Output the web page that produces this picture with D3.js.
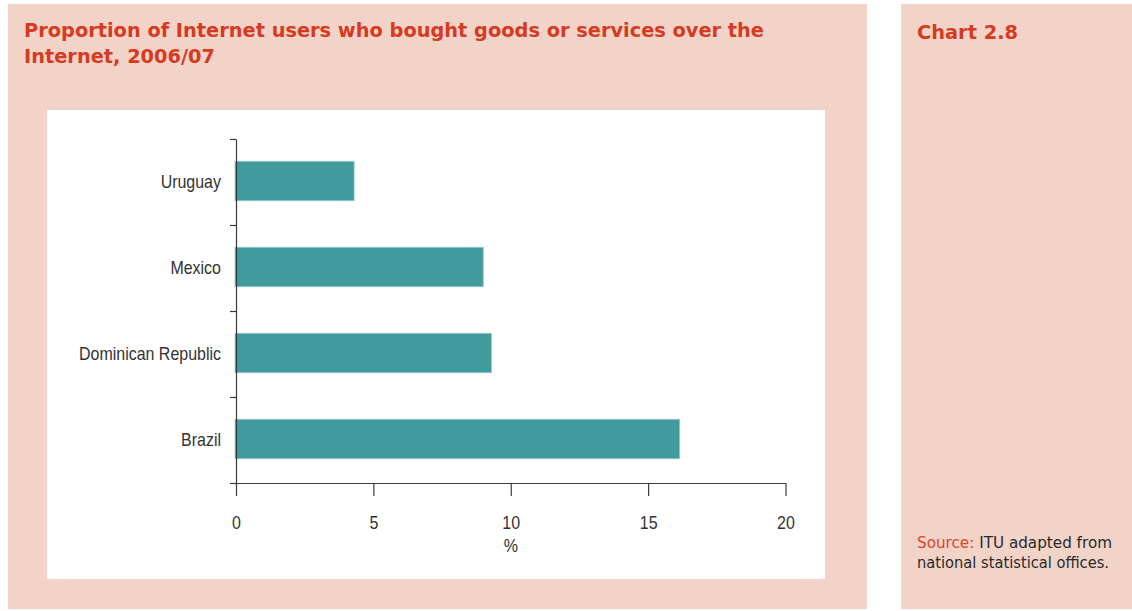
<!DOCTYPE html>
<html>
<head>
<meta charset="utf-8">
<script src="https://cdn.jsdelivr.net/npm/d3@7"></script>
<style>
  html, body { margin: 0; padding: 0; background: #ffffff; }
  svg { display: block; }
</style>
</head>
<body>
<svg id="chart" width="1132" height="611"></svg>
<script>
// Countries, top to bottom
const countries = ["Uruguay", "Mexico", "Dominican Republic", "Brazil"];
// Share of Internet users who bought online, %
const shares = [4.3, 9.0, 9.3, 16.15];
// Axis tick values
const xTicks = [0, 5, 10, 15, 20];

const titleLines = [
  "Proportion of Internet users who bought goods or services over the",
  "Internet, 2006/07"
];
const chartNo = "Chart 2.8";
const sourceLabel = "Source:";
const sourceLines = [" ITU adapted from", "national statistical offices."];

const pink = "#f2d3c7";
const red = "#d63a22";
const teal = "#419a9b";
const axisColor = "#3a3a3a";

const svg = d3.select("#chart");

// Background panels
svg.append("rect").attr("x", 8).attr("y", 4).attr("width", 859).attr("height", 605).attr("fill", pink);
svg.append("rect").attr("x", 901).attr("y", 4).attr("width", 231).attr("height", 605).attr("fill", pink);
svg.append("rect").attr("x", 47).attr("y", 110).attr("width", 778).attr("height", 469).attr("fill", "#ffffff");

// Squeeze a text element horizontally by factor k, keeping its font size
function condense(sel, k) {
  sel.each(function () {
    const w = this.getComputedTextLength();
    d3.select(this).attr("textLength", (w * k).toFixed(2)).attr("lengthAdjust", "spacingAndGlyphs");
  });
}
function ratioFor(sel, target) {
  return target / sel.node().getComputedTextLength();
}

// Title
const titleFont = "Tahoma, 'DejaVu Sans', Verdana, sans-serif";
const t1 = svg.append("text").attr("x", 24).attr("y", 37)
  .attr("font-family", titleFont).attr("font-weight", "bold")
  .attr("font-size", 19.5).attr("fill", red).text(titleLines[0]);
const kTitle = ratioFor(t1, 740);
condense(t1, kTitle);
const t2 = svg.append("text").attr("x", 24).attr("y", 63)
  .attr("font-family", titleFont).attr("font-weight", "bold")
  .attr("font-size", 19.5).attr("fill", red).text(titleLines[1]);
condense(t2, kTitle);

const c1 = svg.append("text").attr("x", 917).attr("y", 39)
  .attr("font-family", titleFont).attr("font-weight", "bold")
  .attr("font-size", 19.5).attr("fill", red).text(chartNo);
condense(c1, ratioFor(c1, 101));

// Source note
const s1 = svg.append("text").attr("x", 917).attr("y", 548)
  .attr("font-family", titleFont).attr("font-size", 15).attr("fill", "#2a2a2a");
s1.append("tspan").attr("fill", "#e0442c").text(sourceLabel);
s1.append("tspan").text(sourceLines[0]);
condense(s1, ratioFor(s1, 195));
const s2 = svg.append("text").attr("x", 917).attr("y", 568)
  .attr("font-family", titleFont).attr("font-size", 15).attr("fill", "#2a2a2a")
  .text(sourceLines[1]);
condense(s2, ratioFor(s2, 192));

// Plot scales
const x = d3.scaleLinear().domain([0, 20]).range([236, 785.5]);
const y = d3.scaleBand().domain(countries).range([139, 483]).paddingInner(0).paddingOuter(0);
const yEdges = d3.scaleLinear().domain([0, countries.length]).range([139, 483]);
const barH = y.bandwidth() * 0.46;

const labelFont = "'Liberation Sans Narrow', 'Arial Narrow', 'Liberation Sans', Arial, sans-serif";
const labelSize = 19;

// Bars
svg.append("g").selectAll("rect").data(countries).join("rect")
  .attr("x", x(0) - 1)
  .attr("y", d => y(d) + (y.bandwidth() - barH) / 2 - 1)
  .attr("width", (d, i) => x(shares[i]) - x(0) + 1)
  .attr("height", barH)
  .attr("fill", teal)
  .attr("stroke", "#9ccfcf").attr("stroke-width", 0.8);

// Y axis: line with ticks at band edges
const yAxis = svg.append("g").attr("transform", `translate(${x(0)},0)`)
  .call(d3.axisLeft(yEdges).tickValues(d3.range(countries.length + 1)).tickFormat("").tickSize(6).tickSizeOuter(0));
yAxis.selectAll("path, line").attr("stroke", axisColor).attr("stroke-width", 1.2);

// Category labels
const labels = svg.append("g").selectAll("text").data(countries).join("text")
  .attr("x", 221)
  .attr("y", d => y(d) + y.bandwidth() / 2 - 1)
  .attr("dy", "0.35em")
  .attr("text-anchor", "end")
  .attr("font-family", labelFont)
  .attr("font-size", labelSize)
  .attr("fill", "#333")
  .text(d => d);
const kLab = ratioFor(labels.filter(d => d === "Dominican Republic"), 142);
condense(labels, kLab);

// X axis
const xAxis = svg.append("g").attr("transform", `translate(0,483)`)
  .call(d3.axisBottom(x).tickValues(xTicks).tickSize(13).tickSizeOuter(0).tickPadding(20));
xAxis.selectAll("path, line").attr("stroke", axisColor).attr("stroke-width", 1.2);
xAxis.selectAll("text")
  .attr("font-family", labelFont)
  .attr("font-size", labelSize)
  .attr("fill", "#333");
condense(xAxis.selectAll("text"), kLab);

const pct = svg.append("text")
  .attr("x", x(10)).attr("y", 552)
  .attr("text-anchor", "middle")
  .attr("font-family", labelFont)
  .attr("font-size", labelSize)
  .attr("fill", "#333")
  .text("%");
condense(pct, kLab);
</script>
</body>
</html>
